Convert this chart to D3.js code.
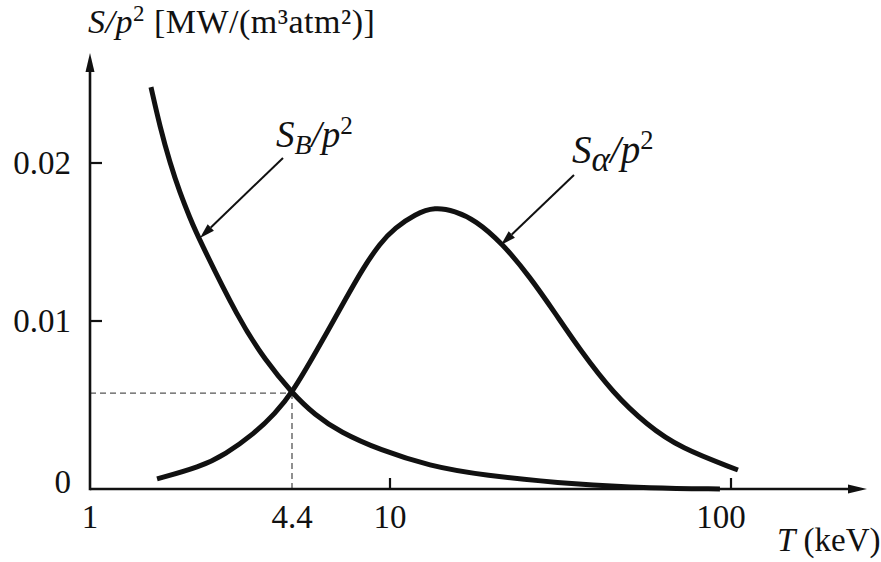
<!DOCTYPE html>
<html><head><meta charset="utf-8">
<script src="https://cdn.jsdelivr.net/npm/d3@7"></script>
<style>body{margin:0;background:#fff}svg{display:block}</style>
</head><body><svg id="c" width="881" height="562"></svg>
<script>
// ---- data ----
const xTicks = [1, 4.4, 10, 100];
const xTickLabels = ["1", "4.4", "10", "100"];
const yTicks = [0, 0.01, 0.02];
const yTickLabels = ["0", "0.01", "0.02"];
// S_B / p^2 (bremsstrahlung)
const sbT = [1.564, 1.671, 1.798, 1.935, 2.082, 2.208, 2.983, 3.61, 4.4, 5.335, 6.58, 9.2, 13.1, 18.4, 36.1, 57.9, 92.8];
const sbS = [0.0248, 0.02228, 0.02, 0.0181, 0.01652, 0.01532, 0.01006, 0.00768, 0.00571, 0.0044, 0.00339, 0.00232, 0.00137, 0.00083, 0.00024, 0.00006, 0];
// S_alpha / p^2
const saT = [1.635, 2.241, 2.692, 3.354, 3.884, 4.4, 5.38, 7.09, 7.91, 9.2, 10.34, 11.84, 13.55, 15.51, 17.76, 21.3, 25.74, 30.47, 36.1, 45.1, 56.7, 70.9, 104.8];
const saS = [0.0006, 0.00131, 0.00205, 0.00333, 0.00449, 0.00571, 0.00815, 0.01177, 0.01323, 0.01494, 0.01589, 0.01677, 0.01722, 0.01696, 0.01639, 0.01494, 0.01278, 0.01051, 0.00827, 0.00571, 0.00381, 0.00244, 0.00113];
const crossT = 4.4, crossS = 0.00571;
// annotation anchors (on the curves)
const annB = {T: 2.208, S: 0.01532};
const annA = {T: 21.3, S: 0.01494};

// ---- scales ----
const x = d3.scaleLog().domain([1, 4.4, 10, 100]).range([90, 292, 390, 731]);
const y = d3.scaleLinear().domain([0, 0.01, 0.02]).range([489, 321, 163]);
const x0 = 90, y0 = 489, xEnd = 867, yTop = 53;

const svg = d3.select("#c");
const serif = "'Liberation Serif', 'DejaVu Serif', serif";
const ink = "#111";

// dashed guide lines
svg.append("line").attr("x1", x0).attr("x2", x(crossT)).attr("y1", y(crossS)).attr("y2", y(crossS))
  .attr("stroke", "#555").attr("stroke-width", 1.3).attr("stroke-dasharray", "6,4");
svg.append("line").attr("x1", x(crossT)).attr("x2", x(crossT)).attr("y1", y(crossS)).attr("y2", y0)
  .attr("stroke", "#555").attr("stroke-width", 1.3).attr("stroke-dasharray", "6,4");

// axes
svg.append("line").attr("x1", x0).attr("x2", xEnd - 12).attr("y1", y0).attr("y2", y0)
  .attr("stroke", ink).attr("stroke-width", 2.6);
svg.append("line").attr("x1", x0).attr("x2", x0).attr("y1", y0 + 1.3).attr("y2", yTop + 12)
  .attr("stroke", ink).attr("stroke-width", 2.6);
svg.append("path").attr("d", `M${xEnd},${y0} L${xEnd - 19},${y0 - 4.5} L${xEnd - 19},${y0 + 4.5} Z`).attr("fill", ink);
svg.append("path").attr("d", `M${x0},${yTop} L${x0 - 4.5},${yTop + 19} L${x0 + 4.5},${yTop + 19} Z`).attr("fill", ink);

// x ticks (pointing up, inside)
xTicks.forEach((t, i) => {
  if (t !== 1 && t !== 4.4) {
    svg.append("line").attr("x1", x(t)).attr("x2", x(t)).attr("y1", y0).attr("y2", y0 - 11)
      .attr("stroke", ink).attr("stroke-width", 2.2);
  }
  svg.append("text").attr("x", x(t) + (t === 100 ? -10 : 0)).attr("y", 528)
    .attr("text-anchor", "middle").attr("font-family", serif).attr("font-size", 33)
    .attr("fill", ink).text(xTickLabels[i]);
});
// y ticks (pointing right, inside)
yTicks.forEach((v, i) => {
  if (v !== 0) {
    svg.append("line").attr("x1", x0).attr("x2", x0 + 12).attr("y1", y(v)).attr("y2", y(v))
      .attr("stroke", ink).attr("stroke-width", 2.2);
  }
  svg.append("text").attr("x", 71).attr("y", y(v) + (v === 0 ? 4 : 11))
    .attr("text-anchor", "end").attr("font-family", serif).attr("font-size", 33)
    .attr("fill", ink).text(yTickLabels[i]);
});

// curves
const line = d3.line().x(d => x(d[0])).y(d => Math.min(y(d[1]), y0)).curve(d3.curveBasis);
svg.append("path").datum(d3.zip(sbT, sbS)).attr("d", line)
  .attr("fill", "none").attr("stroke", ink).attr("stroke-width", 5).attr("stroke-linecap", "butt");
svg.append("path").datum(d3.zip(saT, saS)).attr("d", line)
  .attr("fill", "none").attr("stroke", ink).attr("stroke-width", 5).attr("stroke-linecap", "butt");

// annotation arrows
function arrow(tx, ty, fx, fy) {
  const ang = Math.atan2(ty - fy, tx - fx);
  const L = 15, W = 4.5;
  const bx = tx - L * Math.cos(ang), by = ty - L * Math.sin(ang);
  svg.append("line").attr("x1", fx).attr("y1", fy).attr("x2", bx).attr("y2", by)
    .attr("stroke", ink).attr("stroke-width", 2);
  const px = -Math.sin(ang) * W, py = Math.cos(ang) * W;
  svg.append("path").attr("d", `M${tx},${ty} L${bx + px},${by + py} L${bx - px},${by - py} Z`)
    .attr("fill", ink);
}
arrow(x(annB.T) + 2, y(annB.S) + 1, x(annB.T) + 85, y(annB.S) - 79);
arrow(x(annA.T) - 1, y(annA.S) + 2, x(annA.T) + 72, y(annA.S) - 68);

// labels
function label(px, py, sub, size, subScale) {
  const t = svg.append("text").attr("x", px).attr("y", py).attr("font-family", serif)
    .attr("font-size", size).attr("fill", ink).attr("font-style", "italic");
  t.append("tspan").text("S");
  t.append("tspan").attr("font-size", size * subScale).attr("dy", size * 0.2).text(sub);
  t.append("tspan").attr("dy", -size * 0.2).text("/p");
  t.append("tspan").attr("font-style", "normal").attr("font-size", size * 0.68).attr("dy", -size * 0.36).text("2");
}
label(276, 147, "B", 37, 0.75);
label(572, 163, "α", 39, 0.9);

// y-axis title
const ttl = svg.append("text").attr("x", 88).attr("y", 33).attr("font-family", serif)
  .attr("font-size", 34).attr("letter-spacing", 0.5).attr("fill", ink);
ttl.append("tspan").attr("font-style", "italic").text("S/p");
ttl.append("tspan").attr("font-size", 23).attr("dy", -12).text("2");
ttl.append("tspan").attr("dy", 12).text(" [MW/(m³atm²)]");

// x-axis title
const xt = svg.append("text").attr("x", 777).attr("y", 551).attr("font-family", serif)
  .attr("font-size", 33).attr("fill", ink);
xt.append("tspan").attr("font-style", "italic").text("T");
xt.append("tspan").text(" (keV)");
</script>
</body></html>
